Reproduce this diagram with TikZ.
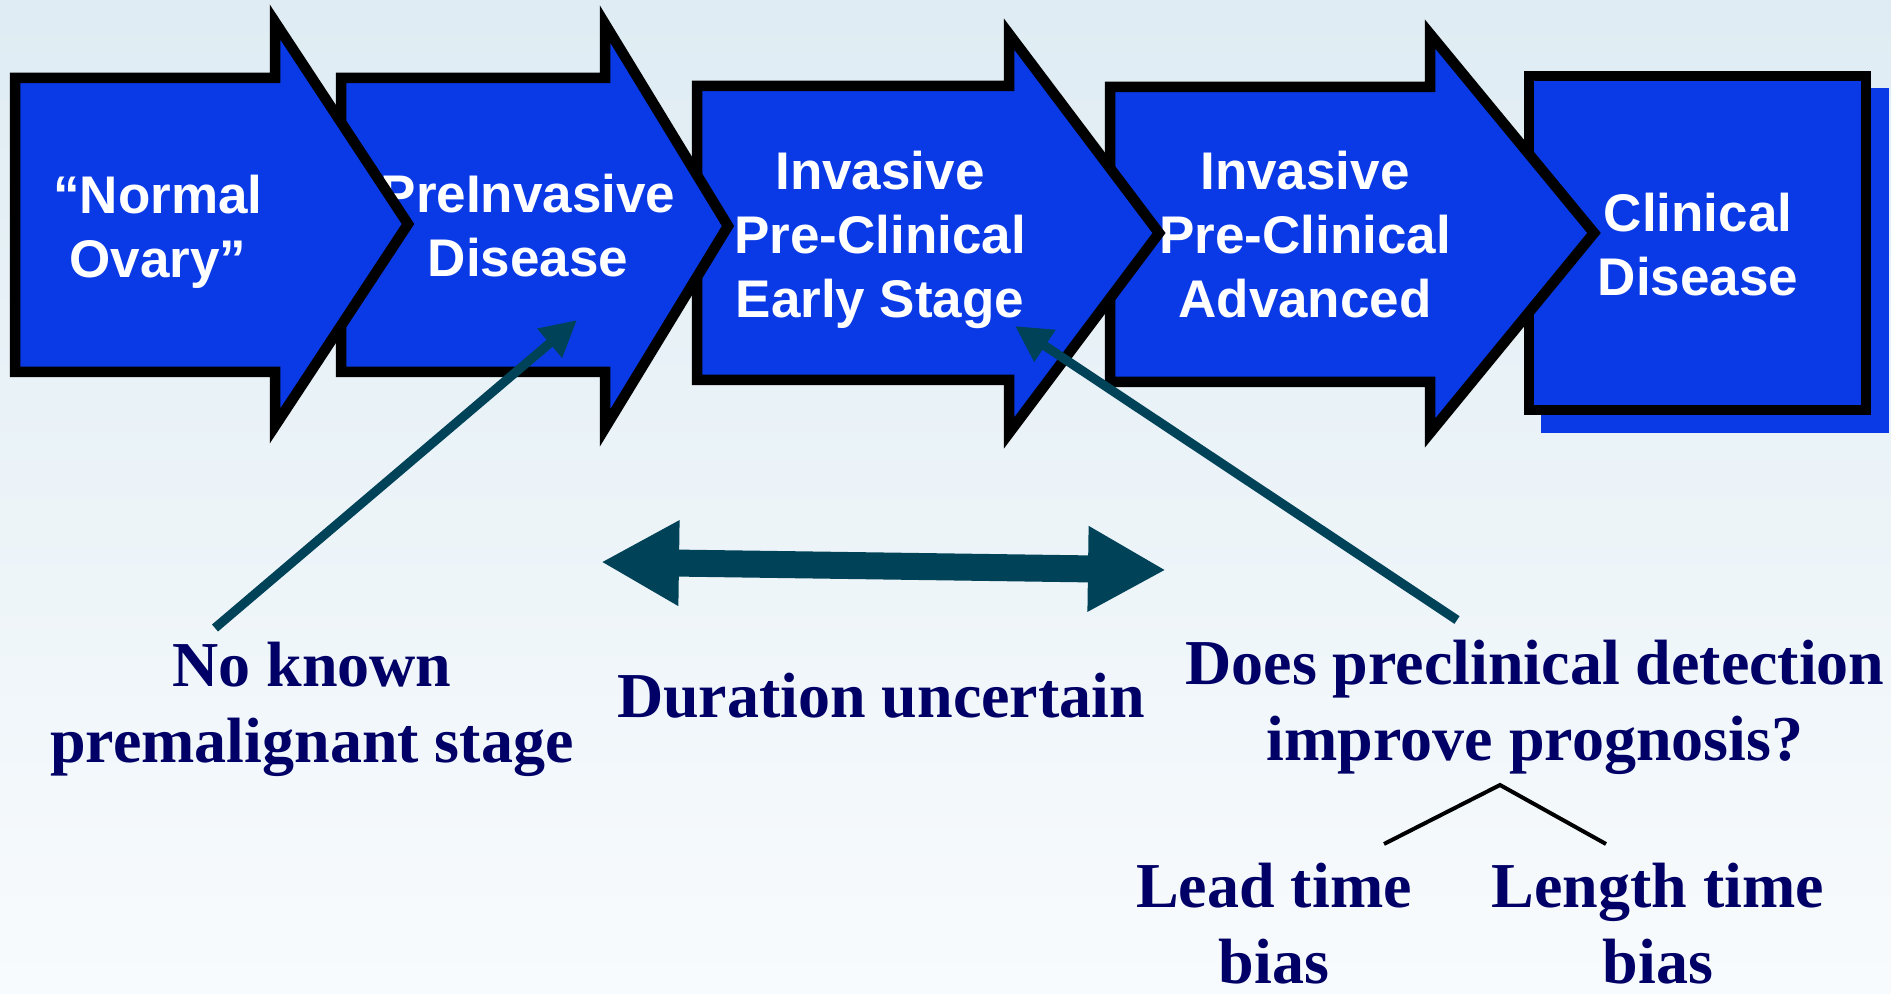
\documentclass[tikz,border=0pt]{standalone}
\usepackage{fontspec}
\setmainfont{Liberation Serif}
\setsansfont{Liberation Sans}
\usetikzlibrary{arrows.meta}

\begin{document}
\begin{tikzpicture}[
    x=0.5pt, y=-0.5pt,
    stage/.style={draw=black, fill=stageC, line width=5.25pt, line join=miter},
    stagetext/.style={text=white, align=center, inner sep=0pt,
                      font=\sffamily\bfseries\fontsize{26.5}{32}\selectfont},
    note/.style={text=noteC, align=center, inner sep=0pt,
                 font=\rmfamily\bfseries\fontsize{32}{38}\selectfont},
    pointer/.style={draw=pointerC, line width=4.6pt, -{Triangle[length=18pt, width=18pt]}},
    span/.style={draw=pointerC, line width=13.5pt,
                 {Triangle[length=39pt, width=40pt]}-{Triangle[length=39pt, width=40pt]}},
    branch/.style={draw=black, line width=2pt},
]

% Color definitions
\definecolor{stageC}{RGB}{10,58,230}
\definecolor{pointerC}{RGB}{0,66,88}
\definecolor{noteC}{RGB}{0,0,102}
\definecolor{bgtopC}{RGB}{223,236,243}
\definecolor{bgbotC}{RGB}{248,251,253}

% Background
\useasboundingbox (0,0) rectangle (1891,994);
\shade[top color=bgtopC, bottom color=bgbotC] (0,0) rectangle (1891,994);

% Stages (right to left, so each head lies over the next stage)
\fill[stageC] (1541,88) rectangle (1889,433);
\draw[stage] (1529,76) rectangle (1866,410);
\node[stagetext] (clinical) at (1698,244.5) {Clinical\\Disease};

\draw[stage] (1110,87) -- (1430,87) -- (1430,34) -- (1594,233) -- (1430,433)
  -- (1430,382) -- (1110,382) -- cycle;
\node[stagetext] (advanced) at (1305,234.5) {Invasive\\Pre-Clinical\\Advanced};

\draw[stage] (697,86) -- (1009,86) -- (1009,34) -- (1159,233) -- (1009,433)
  -- (1009,380) -- (697,380) -- cycle;
\node[stagetext] (early) at (880,240) {Invasive\\Pre-Clinical\\Early Stage};

\draw[stage] (341,78) -- (605,78) -- (605,24) -- (728,226) -- (605,428)
  -- (605,372) -- (341,372) -- cycle;
\node[stagetext] (preinv) at (528,226) {PreInvasive\\Disease};

\draw[stage] (15,78) -- (275,78) -- (275,22) -- (408,224) -- (275,426)
  -- (275,372) -- (15,372) -- cycle;
\node[stagetext] (normal) at (158,231.5) {“Normal\\Ovary”};

% Notes
\node[note] (noknown) at (312,709) {No known\\premalignant stage};
\node[note, anchor=base] (duration) at (881,717) {Duration uncertain};
\node[note] (prognosis) at (1535,707) {Does preclinical detection\\improve prognosis?};
\node[note] (leadtime) at (1274,924) {Lead time\\bias};
\node[note] (lengthtime) at (1658,924) {Length time\\bias};

% Pointers
\coordinate (noknownfoot) at (215,628);
\coordinate (preinvmark) at (577,320);
\coordinate (prognosisfoot) at (1457,620);
\coordinate (earlymark) at (1015,326);
\draw[pointer] (noknownfoot) -- (preinvmark);
\draw[pointer] (prognosisfoot) -- (earlymark);

\coordinate (spanL) at (601,562);
\coordinate (spanR) at (1166,570);
\draw[span] (spanL) -- (spanR);

% Bias split
\coordinate (split) at (1500,785);
\coordinate (leadtop) at (1384,844);
\coordinate (lengthtop) at (1606,844);
\draw[branch] (leadtop) -- (split) -- (lengthtop);

\end{tikzpicture}
\end{document}
